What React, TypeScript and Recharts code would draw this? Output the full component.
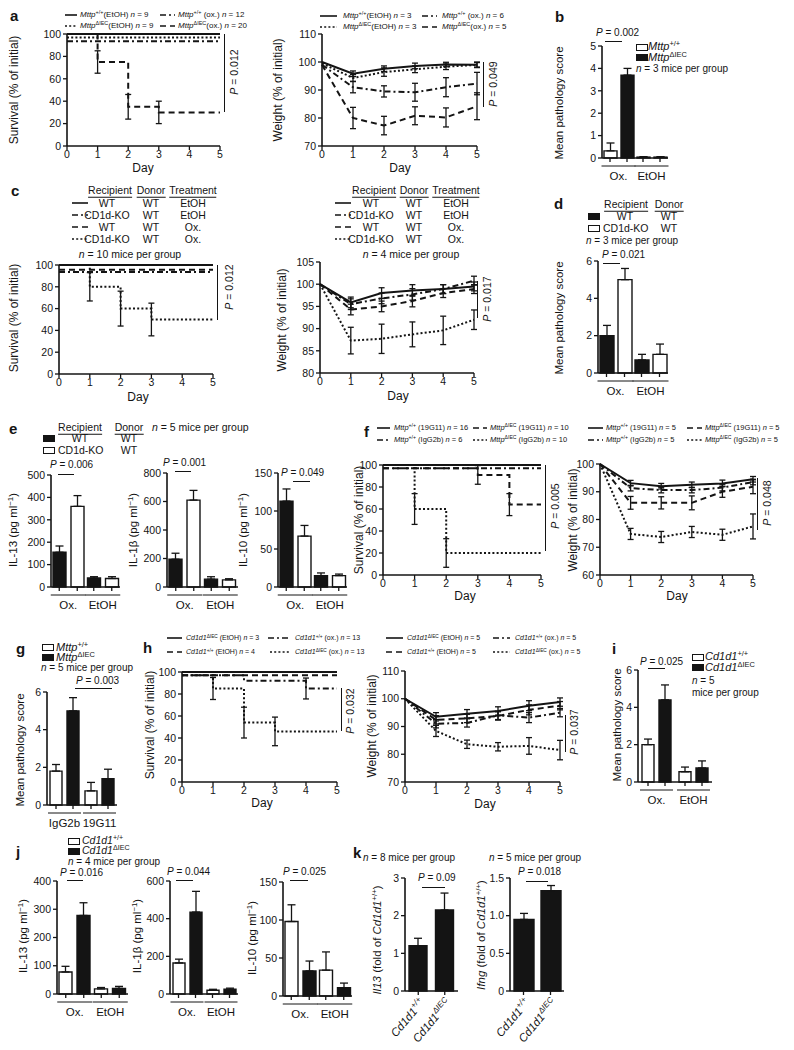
import React from "react";
import { LineChart, Line, BarChart, Bar, XAxis, YAxis, ErrorBar } from "recharts";

const FONT = "Arial, 'Liberation Sans', Helvetica, sans-serif";
const INK = "#141414";

const DAYS = [0, 1, 2, 3, 4, 5];
const SOLID = "";
const DOTTED = "2 2.2";
const DASHED = "6 4";
const DASHDOT = "6 3 2 3";

// a: survival (Mttp)
const aSurvWtEtoh = [100, 100, 100, 100, 100, 100];
const aSurvIecEtoh = [96.8, 96.8, 96.8, 96.8, 96.8, 96.8];
const aSurvWtOx = [93.5, 93.5, 93.5, 93.5, 93.5, 93.5];
const aSurvIecOx = [100, 75, 35, 30, 30, 30];
const aSurvIecOxErr = [null, 10, 11, 10, null, null];
// a: weight
const aWtWtEtoh = [100, 95.8, 97.6, 98.6, 99.1, 99];
const aWtWtEtohErr = [null, 1, 1, 1, 0.8, 0.8];
const aWtIecEtoh = [99.5, 94.3, 96.4, 97.4, 98.3, 99];
const aWtIecEtohErr = [null, 1.2, 1.5, 1.2, 1, 1];
const aWtWtOx = [99, 91, 89.5, 89.2, 91, 92.3];
const aWtWtOxErr = [null, 2, 2, 3.2, 3.4, 4];
const aWtIecOx = [99, 80, 77.3, 80.8, 80.2, 84.2];
const aWtIecOxErr = [null, 3.8, 3.3, 3.2, 3.4, 4.8];

// b: pathology (Mttp)
const bGroups = ["Ox.", "EtOH"];
const bWt = [0.32, 0.04];
const bWtErr = [0.35, 0.02];
const bIec = [3.7, 0.04];
const bIecErr = [0.3, 0.02];

// c: survival (CD1d-KO recipients)
const cSurvWtEtoh = [100, 100, 100, 100, 100, 100];
const cSurvKoEtoh = [93.6, 93.6, 93.6, 93.6, 93.6, 93.6];
const cSurvWtOx = [95.6, 95.6, 95.6, 95.6, 95.6, 95.6];
const cSurvKoOx = [100, 80, 60, 50, 50, 50];
const cSurvKoOxErr = [null, 13, 16, 15, null, null];
// c: weight
const cWtWtEtoh = [100, 95.9, 98, 98.6, 98.9, 99.5];
const cWtKoEtoh = [100, 95.5, 96.8, 97.7, 98.9, 100.8];
const cWtWtOx = [100, 94.3, 95, 96.2, 98, 98.9];
const cWtKoOx = [100, 87.3, 87.7, 88.7, 89.6, 92];
const cWtSmallErr = [null, 1.2, 1.2, 1.3, 1, 1];
const cWtKoOxErr = [null, 3, 3.3, 2.8, 3.2, 2.2];

// d: pathology (CD1d-KO recipients)
const dGroups = ["Ox.", "EtOH"];
const dWt = [2.0, 0.7];
const dWtErr = [0.55, 0.3];
const dKo = [5.0, 1.0];
const dKoErr = [0.6, 0.55];

// e: cytokines (CD1d-KO recipients)
const eGroups = ["Ox.", "EtOH"];
const e13Wt = [155, 40];
const e13WtErr = [28, 6];
const e13Ko = [360, 38];
const e13KoErr = [48, 8];
const e1bWt = [195, 55];
const e1bWtErr = [42, 17];
const e1bKo = [610, 50];
const e1bKoErr = [68, 8];
const e10Wt = [113, 15];
const e10WtErr = [16, 3.5];
const e10Ko = [67, 15];
const e10KoErr = [14, 2];

// f: survival / weight with antibody
const fSurvWt19 = [100, 100, 100, 100, 100, 100];
const fSurvWtIg = [97, 97, 97, 97, 97, 97];
const fSurvIec19 = [97, 97, 97, 91, 64, 64];
const fSurvIec19Err = [null, null, null, 8.5, 10, null];
const fSurvIecIg = [100, 60, 20, 20, 20, 20];
const fSurvIecIgErr = [null, 14, 13, null, null, null];
const fWtWt19 = [100, 93.1, 92, 92.5, 93, 94.5];
const fWtWtIg = [100, 91.3, 90.6, 90.6, 91.5, 93.5];
const fWtIec19 = [100, 86, 86, 86, 90, 91.8];
const fWtIecIg = [100, 74.8, 73.7, 75.5, 74.5, 77.5];
const fWtSmallErr = [null, 1, 1, 1, 1.2, 1];
const fWtIec19Err = [null, 2.3, 2.2, 2.5, 2, 2.5];
const fWtIecIgErr = [null, 2, 2, 2, 2, 4.5];

// g: pathology with antibody
const gGroups = ["IgG2b", "19G11"];
const gWt = [1.8, 0.75];
const gWtErr = [0.35, 0.45];
const gIec = [5.0, 1.4];
const gIecErr = [0.7, 0.5];

// h: survival / weight (Cd1d1)
const hSurvIecEtoh = [100, 100, 100, 100, 100, 100];
const hSurvWtEtoh = [97, 97, 97, 97, 97, 97];
const hSurvWtOx = [97, 97, 92, 92, 85, 85];
const hSurvWtOxErr = [null, null, null, null, 9.5, null];
const hSurvIecOx = [97, 85, 54, 46, 46, 46];
const hSurvIecOxErr = [null, 10, 14, 13, null, null];
const hWtIecEtoh = [100, 93.5, 94.6, 95.6, 97.5, 98.8];
const hWtWtEtoh = [100, 92.4, 92.9, 93.8, 96, 97.5];
const hWtWtOx = [100, 91, 91.3, 94, 93.2, 95];
const hWtIecOx = [100, 88.4, 83.6, 82.7, 83, 81.5];
const hWtSmallErr = [null, 1.5, 1.5, 1.5, 1.8, 1.5];
const hWtIecOxErr = [null, 2, 1.5, 1.5, 3, 3.5];

// i: pathology (Cd1d1)
const iGroups = ["Ox.", "EtOH"];
const iWt = [2.0, 0.55];
const iWtErr = [0.3, 0.25];
const iIec = [4.4, 0.75];
const iIecErr = [0.8, 0.38];

// j: cytokines (Cd1d1)
const jGroups = ["Ox.", "EtOH"];
const j13Wt = [78, 18];
const j13WtErr = [20, 5];
const j13Iec = [278, 20];
const j13IecErr = [45, 7];
const j1bWt = [165, 20];
const j1bWtErr = [20, 5];
const j1bIec = [435, 25];
const j1bIecErr = [110, 6];
const j10Wt = [98, 34];
const j10WtErr = [22, 24];
const j10Iec = [33, 11];
const j10IecErr = [13, 6];

// k: qPCR
const kCats = ["Cd1d1|+/+", "Cd1d1|\u0394IEC"];
const kIl13 = [1.2, 2.15];
const kIl13Err = [0.2, 0.45];
const kIfng = [0.95, 1.33];
const kIfngErr = [0.08, 0.07];

type Num = number | null;
type Series = { vals: number[]; errs?: Num[]; dash: string };
type BarSeries = { vals: number[]; errs: number[]; black: boolean };

const YW = 34;
const PT = 10;
const PR = 10;

const tickStyle = { fontSize: 10.5, fill: INK, fontFamily: FONT };
const axisLine = { stroke: INK, strokeWidth: 1.6 };
const tickLine = { stroke: INK, strokeWidth: 1.3 };

function LinePanel({ box, domain, ticks, series, step = false }: { box: number[]; domain: number[]; ticks: number[]; series: Series[]; step?: boolean }) {
  const [x0, y0, x1, y1] = box;
  const XH = 30;
  const rows = DAYS.map((d, i) => {
    const r: Record<string, unknown> = { day: d };
    series.forEach((s, k) => {
      r["v" + k] = s.vals[i];
      r["e" + k] = s.errs ? s.errs[i] : null;
    });
    return r;
  });
  return (
    <div style={{ position: "absolute", left: x0 - YW, top: y0 - PT }}>
      <LineChart width={x1 - x0 + YW + PR} height={y1 - y0 + PT + XH} data={rows} margin={{ top: PT, right: PR, left: 0, bottom: 0 }}>
        <XAxis dataKey="day" type="number" domain={[0, 5]} ticks={DAYS} interval={0} height={XH}
          axisLine={axisLine} tickLine={tickLine} tickSize={4} tick={tickStyle} tickMargin={1} />
        <YAxis type="number" domain={domain} ticks={ticks} interval={0} width={YW}
          axisLine={axisLine} tickLine={tickLine} tickSize={4} tick={tickStyle} tickMargin={2} />
        {series.map((s, k) => (
          <Line key={k} dataKey={"v" + k} type={step ? "stepAfter" : "linear"} stroke={INK} strokeWidth={2}
            strokeDasharray={s.dash || undefined} dot={false} isAnimationActive={false}>
            {s.errs && <ErrorBar dataKey={"e" + k} width={3} stroke={INK} strokeWidth={1.3} direction="y" />}
          </Line>
        ))}
      </LineChart>
    </div>
  );
}

function GroupTick(props: any) {
  const { x, y, payload, offs, half } = props;
  return (
    <g>
      {offs.map((o: number, i: number) => (
        <line key={i} x1={x + o} x2={x + o} y1={y} y2={y + 4} stroke={INK} strokeWidth={1.3} />
      ))}
      <line x1={x - half} x2={x + half} y1={y + 8} y2={y + 8} stroke={INK} strokeWidth={1} />
      <text x={x} y={y + 22} textAnchor="middle" fontSize={11.5} fontFamily={FONT} fill={INK}>{payload.value}</text>
    </g>
  );
}

function GeneTick(props: any) {
  const { x, y, payload } = props;
  const [base, sup] = String(payload.value).split("|");
  return (
    <g>
      <line x1={x} x2={x} y1={y} y2={y + 4} stroke={INK} strokeWidth={1.3} />
      <text transform={`translate(${x + 7},${y + 12}) rotate(-50)`} textAnchor="end" fontSize={11.5}
        fontStyle="italic" fontFamily={FONT} fill={INK}>
        {base}<tspan fontSize={8} dy={-5}>{sup}</tspan>
      </text>
    </g>
  );
}

function BarPanel({ box, domain, ticks, cats, series, barSize, gap, fmt, genes = false }: {
  box: number[]; domain: number[]; ticks: number[]; cats: string[]; series: BarSeries[];
  barSize: number; gap: number; fmt?: (v: number) => string; genes?: boolean;
}) {
  const [x0, y0, x1, y1] = box;
  const XH = genes ? 70 : 30;
  const rows = cats.map((c, i) => {
    const r: Record<string, unknown> = { c };
    series.forEach((s, k) => {
      r["v" + k] = s.vals[i];
      r["e" + k] = [0, s.errs[i]];
    });
    return r;
  });
  const h = (barSize + gap) / 2;
  const offs = series.length === 1 ? [0] : [-h, h];
  return (
    <div style={{ position: "absolute", left: x0 - YW, top: y0 - PT }}>
      <BarChart width={x1 - x0 + YW + PR} height={y1 - y0 + PT + XH} data={rows} barGap={gap}
        margin={{ top: PT, right: PR, left: 0, bottom: 0 }}>
        <XAxis dataKey="c" interval={0} height={XH} axisLine={axisLine} tickLine={false} tickSize={0} tickMargin={0}
          tick={(p: any) => genes ? <GeneTick {...p} /> : <GroupTick {...p} offs={offs} half={barSize + gap / 2 + 2} />} />
        <YAxis type="number" domain={domain} ticks={ticks} interval={0} width={YW} tickFormatter={fmt}
          axisLine={axisLine} tickLine={tickLine} tickSize={4} tick={tickStyle} tickMargin={2} />
        {series.map((s, k) => (
          <Bar key={k} dataKey={"v" + k} barSize={barSize} fill={s.black ? INK : "#fff"} stroke={INK}
            strokeWidth={1.4} isAnimationActive={false}>
            <ErrorBar dataKey={"e" + k} width={4} stroke={INK} strokeWidth={1.3} direction="y" />
          </Bar>
        ))}
      </BarChart>
    </div>
  );
}

// ---------- overlay helpers ----------
function T({ x, y, s = 10, a = "l", b, it, children }: { x: number; y: number; s?: number; a?: string; b?: boolean; it?: boolean; children: React.ReactNode }) {
  const tx = a === "l" ? "0" : a === "c" ? "-50%" : "-100%";
  return (
    <div style={{ position: "absolute", left: x, top: y, transform: `translate(${tx},-50%)`, fontSize: s, lineHeight: 1,
      whiteSpace: "nowrap", fontWeight: b ? 700 : 400, fontStyle: it ? "italic" : "normal" }}>{children}</div>
  );
}
function VT({ x, y, s = 12, children }: { x: number; y: number; s?: number; children: React.ReactNode }) {
  return (
    <div style={{ position: "absolute", left: x, top: y, transform: "translate(-50%,-50%) rotate(-90deg)",
      fontSize: s, lineHeight: 1, whiteSpace: "nowrap" }}>{children}</div>
  );
}
function HL({ x1, x2, y, w = 1 }: { x1: number; x2: number; y: number; w?: number }) {
  return <div style={{ position: "absolute", left: x1, top: y, width: x2 - x1, height: w, background: INK }} />;
}
function VL({ x, y1, y2, w = 1.2 }: { x: number; y1: number; y2: number; w?: number }) {
  return <div style={{ position: "absolute", left: x, top: y1, width: w, height: y2 - y1, background: INK }} />;
}
function Sample({ x, y, w, dash }: { x: number; y: number; w: number; dash: string }) {
  return (
    <svg style={{ position: "absolute", left: x, top: y - 3 }} width={w} height={6}>
      <line x1={0} x2={w} y1={3} y2={3} stroke={INK} strokeWidth={1.6} strokeDasharray={dash || undefined} />
    </svg>
  );
}
function Sw({ x, y, black, w = 12, h = 7 }: { x: number; y: number; black?: boolean; w?: number; h?: number }) {
  return <div style={{ position: "absolute", left: x, top: y - h / 2, width: w - 2, height: h - 2, border: `1px solid ${INK}`, background: black ? INK : "#fff" }} />;
}
const Sup = ({ children }: { children: React.ReactNode }) => (
  <span style={{ fontSize: "0.68em", position: "relative", top: "-0.5em" }}>{children}</span>
);
const G = ({ g, s }: { g: string; s: string }) => (<><i>{g}</i><Sup>{s}</Sup></>);
const WT = "+/+";
const IEC = "\u0394IEC";
const N = () => <i>n</i>;
const P = ({ v }: { v: string }) => (<><i>P</i> = {v}</>);
const U = ({ children }: { children: React.ReactNode }) => (
  <span style={{ borderBottom: `1px solid ${INK}`, paddingBottom: 1 }}>{children}</span>
);
const PL = ({ x, y, t }: { x: number; y: number; t: string }) => <T x={x} y={y} s={15} b>{t}</T>;

function Li({ x, w, tx, y, dash, s = 8, children }: { x: number; w: number; tx: number; y: number; dash: string; s?: number; children: React.ReactNode }) {
  return (<><Sample x={x} y={y} w={w} dash={dash} /><T x={tx} y={y} s={s}>{children}</T></>);
}

function TableLegend({ cx, sx, head }: { cx: number[]; sx: number; head: number }) {
  const rows: [string, string, string, string][] = [
    [SOLID, "WT", "WT", "EtOH"],
    [DASHDOT, "CD1d-KO", "WT", "EtOH"],
    [DASHED, "WT", "WT", "Ox."],
    [DOTTED, "CD1d-KO", "WT", "Ox."],
  ];
  return (
    <>
      <T x={cx[0]} y={head} s={10.5} a="c"><U>Recipient</U></T>
      <T x={cx[1]} y={head} s={10.5} a="c"><U>Donor</U></T>
      <T x={cx[2]} y={head} s={10.5} a="c"><U>Treatment</U></T>
      {rows.map((r, i) => (
        <React.Fragment key={i}>
          <Sample x={sx} y={head + 13 + i * 12} w={16} dash={r[0]} />
          <T x={cx[0] - 3} y={head + 13 + i * 12} s={10.5} a="c">{r[1]}</T>
          <T x={cx[1]} y={head + 13 + i * 12} s={10.5} a="c">{r[2]}</T>
          <T x={cx[2]} y={head + 13 + i * 12} s={10.5} a="c">{r[3]}</T>
        </React.Fragment>
      ))}
    </>
  );
}

const ILLabel = ({ t }: { t: string }) => (<>{t} (pg ml<Sup>{"\u22121"}</Sup>)</>);

export default function App() {
  return (
    <div style={{ position: "absolute", left: 0, top: 0, width: 794, height: 1050, background: "#fff", fontFamily: FONT, color: INK, overflow: "hidden" }}>
      {/* ---------------- a ---------------- */}
      <PL x={10} y={15} t="a" />
      <Li x={65} w={12} tx={80} y={15} dash={SOLID}><G g="Mttp" s={WT} />(EtOH) <N /> = 9</Li>
      <Li x={160} w={15} tx={178} y={15} dash={DASHDOT}><G g="Mttp" s={WT} /> (ox.) <N /> = 12</Li>
      <Li x={65} w={12} tx={80} y={26} dash={DOTTED}><G g="Mttp" s={IEC} />(EtOH) <N /> = 9</Li>
      <Li x={160} w={15} tx={178} y={26} dash={DASHED}><G g="Mttp" s={IEC} />(ox.) <N /> = 20</Li>
      <LinePanel box={[67, 34, 220, 146]} domain={[0, 100]} ticks={[0, 20, 40, 60, 80, 100]} step series={[
        { vals: aSurvWtEtoh, dash: SOLID },
        { vals: aSurvIecEtoh, dash: DOTTED },
        { vals: aSurvWtOx, dash: DASHDOT },
        { vals: aSurvIecOx, errs: aSurvIecOxErr, dash: DASHED },
      ]} />
      <VT x={14} y={90}>Survival (% of initial)</VT>
      <T x={143} y={168} s={12} a="c">Day</T>
      <VL x={224} y1={34} y2={112} />
      <VT x={234} y={72} s={10.5}><P v="0.012" /></VT>

      <Li x={320} w={17} tx={343} y={16} dash={SOLID}><G g="Mttp" s={WT} />(EtOH) <N /> = 3</Li>
      <Li x={422} w={15} tx={442} y={16} dash={DASHDOT}><G g="Mttp" s={WT} /> (ox.) <N /> = 6</Li>
      <Li x={320} w={17} tx={343} y={27} dash={DOTTED}><G g="Mttp" s={IEC} />(EtOH) <N /> = 3</Li>
      <Li x={422} w={15} tx={442} y={27} dash={DASHED}><G g="Mttp" s={IEC} />(ox.) <N /> = 5</Li>
      <LinePanel box={[322, 34, 477, 146]} domain={[70, 110]} ticks={[70, 80, 90, 100, 110]} series={[
        { vals: aWtWtEtoh, errs: aWtWtEtohErr, dash: SOLID },
        { vals: aWtIecEtoh, errs: aWtIecEtohErr, dash: DOTTED },
        { vals: aWtWtOx, errs: aWtWtOxErr, dash: DASHDOT },
        { vals: aWtIecOx, errs: aWtIecOxErr, dash: DASHED },
      ]} />
      <VT x={278} y={90}>Weight (% of initial)</VT>
      <T x={400} y={168} s={12} a="c">Day</T>
      <VL x={483} y1={62} y2={107} />
      <VT x={493} y={84} s={10.5}><P v="0.049" /></VT>

      {/* ---------------- b ---------------- */}
      <PL x={555} y={16} t="b" />
      <T x={596} y={33} s={10}><P v="0.002" /></T>
      <HL x1={605} x2={622} y={41} />
      <Sw x={636} y={47} />
      <T x={648} y={46} s={11}><G g="Mttp" s={WT} /></T>
      <Sw x={636} y={57} black />
      <T x={648} y={57} s={11}><G g="Mttp" s={IEC} /></T>
      <T x={636} y={69} s={10}><N /> = 3 mice per group</T>
      <BarPanel box={[602, 46, 668, 158]} domain={[0, 5]} ticks={[0, 1, 2, 3, 4, 5]} cats={bGroups} barSize={13} gap={4} series={[
        { vals: bWt, errs: bWtErr, black: false },
        { vals: bIec, errs: bIecErr, black: true },
      ]} />
      <VT x={560} y={103} s={11.5}>Mean pathology score</VT>

      {/* ---------------- c ---------------- */}
      <PL x={11} y={190} t="c" />
      <TableLegend cx={[110, 151, 193]} sx={72} head={190} />
      <T x={130} y={254} s={10.5} a="c"><N /> = 10 mice per group</T>
      <LinePanel box={[59, 265, 213, 374]} domain={[0, 100]} ticks={[0, 20, 40, 60, 80, 100]} step series={[
        { vals: cSurvWtEtoh, dash: SOLID },
        { vals: cSurvWtOx, dash: DASHED },
        { vals: cSurvKoEtoh, dash: DASHDOT },
        { vals: cSurvKoOx, errs: cSurvKoOxErr, dash: DOTTED },
      ]} />
      <VT x={14} y={318}>Survival (% of initial)</VT>
      <T x={138} y={397} s={12} a="c">Day</T>
      <VL x={217} y1={265} y2={320} />
      <VT x={229} y={287} s={10.5}><P v="0.012" /></VT>

      <TableLegend cx={[374, 414, 456]} sx={335} head={190} />
      <T x={411} y={254} s={10.5} a="c"><N /> = 4 mice per group</T>
      <LinePanel box={[320, 262, 474, 373]} domain={[80, 105]} ticks={[80, 85, 90, 95, 100, 105]} series={[
        { vals: cWtWtEtoh, errs: cWtSmallErr, dash: SOLID },
        { vals: cWtKoEtoh, errs: cWtSmallErr, dash: DASHDOT },
        { vals: cWtWtOx, errs: cWtSmallErr, dash: DASHED },
        { vals: cWtKoOx, errs: cWtKoOxErr, dash: DOTTED },
      ]} />
      <VT x={282} y={320}>Weight (% of initial)</VT>
      <T x={398} y={396} s={12} a="c">Day</T>
      <VL x={477} y1={281} y2={318} />
      <VT x={487} y={299} s={10.5}><P v="0.017" /></VT>

      {/* ---------------- d ---------------- */}
      <PL x={554} y={203} t="d" />
      <T x={626} y={204} s={10.5} a="c"><U>Recipient</U></T>
      <T x={669} y={204} s={10.5} a="c"><U>Donor</U></T>
      <Sw x={588} y={216} black />
      <T x={625} y={216} s={10.5} a="c">WT</T>
      <T x={669} y={216} s={10.5} a="c">WT</T>
      <Sw x={588} y={228} />
      <T x={603} y={228} s={10.5}>CD1d-KO</T>
      <T x={669} y={228} s={10.5} a="c">WT</T>
      <T x={586} y={241} s={10}><N /> = 3 mice per group</T>
      <T x={602} y={255} s={10}><P v="0.021" /></T>
      <HL x1={603} x2={620} y={263} />
      <BarPanel box={[598, 261, 668, 373]} domain={[0, 6]} ticks={[0, 2, 4, 6]} cats={dGroups} barSize={14} gap={4} series={[
        { vals: dWt, errs: dWtErr, black: true },
        { vals: dKo, errs: dKoErr, black: false },
      ]} />
      <VT x={560} y={318} s={11.5}>Mean pathology score</VT>

      {/* ---------------- e ---------------- */}
      <PL x={9} y={428} t="e" />
      <T x={80} y={427} s={10.5} a="c"><U>Recipient</U></T>
      <T x={129} y={427} s={10.5} a="c"><U>Donor</U></T>
      <T x={152} y={427} s={10.5}><N /> = 5 mice per group</T>
      <Sw x={43} y={438} black />
      <T x={80} y={438} s={10.5} a="c">WT</T>
      <T x={129} y={438} s={10.5} a="c">WT</T>
      <Sw x={43} y={450} />
      <T x={58} y={450} s={10.5}>CD1d-KO</T>
      <T x={129} y={450} s={10.5} a="c">WT</T>

      <T x={50} y={465} s={10}><P v="0.006" /></T>
      <HL x1={58} x2={74} y={474} />
      <BarPanel box={[51, 475, 120, 587]} domain={[0, 500]} ticks={[0, 100, 200, 300, 400, 500]} cats={eGroups} barSize={13} gap={5} series={[
        { vals: e13Wt, errs: e13WtErr, black: true },
        { vals: e13Ko, errs: e13KoErr, black: false },
      ]} />
      <VT x={14} y={530} s={11.5}><ILLabel t="IL-13" /></VT>

      <T x={163} y={463} s={10}><P v="0.001" /></T>
      <HL x1={175} x2={191} y={471} />
      <BarPanel box={[167, 473, 238, 587]} domain={[0, 800]} ticks={[0, 200, 400, 600, 800]} cats={eGroups} barSize={13} gap={5} series={[
        { vals: e1bWt, errs: e1bWtErr, black: true },
        { vals: e1bKo, errs: e1bKoErr, black: false },
      ]} />
      <VT x={134} y={530} s={11.5}><ILLabel t={"IL-1\u03b2"} /></VT>

      <T x={281} y={473} s={10}><P v="0.049" /></T>
      <HL x1={293} x2={310} y={481} />
      <BarPanel box={[278, 473, 347, 587]} domain={[0, 150]} ticks={[0, 50, 100, 150]} cats={eGroups} barSize={13} gap={5} series={[
        { vals: e10Wt, errs: e10WtErr, black: true },
        { vals: e10Ko, errs: e10KoErr, black: false },
      ]} />
      <VT x={244} y={530} s={11.5}><ILLabel t="IL-10" /></VT>

      {/* ---------------- f ---------------- */}
      <PL x={364} y={431} t="f" />
      <Li x={377} w={13} tx={394} y={428} s={7.5} dash={SOLID}><G g="Mttp" s={WT} /> (19G11) <N /> = 16</Li>
      <Li x={473} w={14} tx={490} y={428} s={7.5} dash={DASHED}><G g="Mttp" s={IEC} /> (19G11) <N /> = 10</Li>
      <Li x={588} w={15} tx={606} y={428} s={7.5} dash={SOLID}><G g="Mttp" s={WT} /> (19G11) <N /> = 5</Li>
      <Li x={687} w={15} tx={705} y={428} s={7.5} dash={DASHED}><G g="Mttp" s={IEC} /> (19G11) <N /> = 5</Li>
      <Li x={377} w={13} tx={394} y={440} s={7.5} dash={DASHDOT}><G g="Mttp" s={WT} /> (IgG2b) <N /> = 6</Li>
      <Li x={473} w={14} tx={490} y={440} s={7.5} dash={DOTTED}><G g="Mttp" s={IEC} /> (IgG2b) <N /> = 10</Li>
      <Li x={588} w={15} tx={606} y={440} s={7.5} dash={DASHDOT}><G g="Mttp" s={WT} /> (IgG2b) <N /> = 5</Li>
      <Li x={687} w={15} tx={705} y={440} s={7.5} dash={DOTTED}><G g="Mttp" s={IEC} /> (IgG2b) <N /> = 5</Li>
      <LinePanel box={[383, 465, 541, 575]} domain={[0, 100]} ticks={[0, 20, 40, 60, 80, 100]} step series={[
        { vals: fSurvWt19, dash: SOLID },
        { vals: fSurvWtIg, dash: DASHDOT },
        { vals: fSurvIec19, errs: fSurvIec19Err, dash: DASHED },
        { vals: fSurvIecIg, errs: fSurvIecIgErr, dash: DOTTED },
      ]} />
      <VT x={359} y={520}>Survival (% of initial)</VT>
      <T x={465} y={596} s={12} a="c">Day</T>
      <VL x={545} y1={465} y2={551} />
      <VT x={555} y={506} s={10.5}><P v="0.005" /></VT>

      <LinePanel box={[600, 464, 753, 575]} domain={[60, 100]} ticks={[60, 70, 80, 90, 100]} series={[
        { vals: fWtWt19, errs: fWtSmallErr, dash: SOLID },
        { vals: fWtWtIg, errs: fWtSmallErr, dash: DASHDOT },
        { vals: fWtIec19, errs: fWtIec19Err, dash: DASHED },
        { vals: fWtIecIg, errs: fWtIecIgErr, dash: DOTTED },
      ]} />
      <VT x={573} y={520}>Weight (% of initial)</VT>
      <T x={677} y={596} s={12} a="c">Day</T>
      <VL x={757} y1={478} y2={530} />
      <VT x={767} y={503} s={10.5}><P v="0.048" /></VT>

      {/* ---------------- g ---------------- */}
      <PL x={16} y={648} t="g" />
      <Sw x={42} y={647} />
      <T x={56} y={647} s={11}><G g="Mttp" s={WT} /></T>
      <Sw x={42} y={657} black />
      <T x={56} y={657} s={11}><G g="Mttp" s={IEC} /></T>
      <T x={41} y={668} s={10}><N /> = 5 mice per group</T>
      <T x={76} y={681} s={10}><P v="0.003" /></T>
      <HL x1={75} x2={112} y={688} />
      <BarPanel box={[47, 692, 117, 805]} domain={[0, 6]} ticks={[0, 2, 4, 6]} cats={gGroups} barSize={12} gap={5} series={[
        { vals: gWt, errs: gWtErr, black: false },
        { vals: gIec, errs: gIecErr, black: true },
      ]} />
      <VT x={21} y={750} s={11.5}>Mean pathology score</VT>

      {/* ---------------- h ---------------- */}
      <PL x={143} y={647} t="h" />
      <Li x={167} w={15} tx={186} y={638} s={7} dash={SOLID}><G g="Cd1d1" s={IEC} /> (EtOH) <N /> = 3</Li>
      <Li x={268} w={22} tx={295} y={638} s={7} dash={DASHDOT}><G g="Cd1d1" s={WT} /> (ox.) <N /> = 13</Li>
      <Li x={167} w={15} tx={186} y={652} s={7} dash={DASHED}><G g="Cd1d1" s={WT} /> (EtOH) <N /> = 4</Li>
      <Li x={270} w={20} tx={295} y={652} s={7} dash={DOTTED}><G g="Cd1d1" s={IEC} /> (ox.) <N /> = 13</Li>
      <Li x={386} w={17} tx={407} y={638} s={7} dash={SOLID}><G g="Cd1d1" s={IEC} /> (EtOH) <N /> = 5</Li>
      <Li x={493} w={17} tx={515} y={638} s={7} dash={DASHDOT}><G g="Cd1d1" s={WT} /> (ox.) <N /> = 5</Li>
      <Li x={386} w={17} tx={407} y={652} s={7} dash={DASHED}><G g="Cd1d1" s={WT} /> (EtOH) <N /> = 5</Li>
      <Li x={493} w={17} tx={515} y={652} s={7} dash={DOTTED}><G g="Cd1d1" s={IEC} /> (ox.) <N /> = 5</Li>
      <LinePanel box={[182, 672, 337, 782]} domain={[0, 100]} ticks={[0, 20, 40, 60, 80, 100]} step series={[
        { vals: hSurvIecEtoh, dash: SOLID },
        { vals: hSurvWtEtoh, dash: DASHED },
        { vals: hSurvWtOx, errs: hSurvWtOxErr, dash: DASHDOT },
        { vals: hSurvIecOx, errs: hSurvIecOxErr, dash: DOTTED },
      ]} />
      <VT x={150} y={725}>Survival (% of initial)</VT>
      <T x={262} y={803} s={12} a="c">Day</T>
      <VL x={341} y1={688} y2={731} />
      <VT x={350} y={711} s={10.5}><P v="0.032" /></VT>

      <LinePanel box={[405, 671, 560, 782]} domain={[70, 110]} ticks={[70, 80, 90, 100, 110]} series={[
        { vals: hWtIecEtoh, errs: hWtSmallErr, dash: SOLID },
        { vals: hWtWtEtoh, errs: hWtSmallErr, dash: DASHED },
        { vals: hWtWtOx, errs: hWtSmallErr, dash: DASHDOT },
        { vals: hWtIecOx, errs: hWtIecOxErr, dash: DOTTED },
      ]} />
      <VT x={372} y={726}>Weight (% of initial)</VT>
      <T x={485} y={804} s={12} a="c">Day</T>
      <VL x={565} y1={715} y2={752} />
      <VT x={574} y={732} s={10.5}><P v="0.037" /></VT>

      {/* ---------------- i ---------------- */}
      <PL x={612} y={648} t="i" />
      <T x={640} y={662} s={10}><P v="0.025" /></T>
      <HL x1={648} x2={665} y={668} />
      <Sw x={692} y={657} />
      <T x={705} y={656} s={11}><G g="Cd1d1" s={WT} /></T>
      <Sw x={692} y={667} black />
      <T x={705} y={667} s={11}><G g="Cd1d1" s={IEC} /></T>
      <T x={692} y={681} s={10}><N /> = 5</T>
      <T x={692} y={693} s={10}>mice per group</T>
      <BarPanel box={[638, 670, 712, 782]} domain={[0, 6]} ticks={[0, 2, 4, 6]} cats={iGroups} barSize={12} gap={5} series={[
        { vals: iWt, errs: iWtErr, black: false },
        { vals: iIec, errs: iIecErr, black: true },
      ]} />
      <VT x={618} y={725} s={11.5}>Mean pathology score</VT>

      {/* ---------------- j ---------------- */}
      <PL x={16} y={851} t="j" />
      <Sw x={68} y={841} />
      <T x={82} y={841} s={10.5}><G g="Cd1d1" s={WT} /></T>
      <Sw x={68} y={851} black />
      <T x={82} y={851} s={10.5}><G g="Cd1d1" s={IEC} /></T>
      <T x={68} y={862} s={10}><N /> = 4 mice per group</T>

      <T x={60} y={873} s={10}><P v="0.016" /></T>
      <HL x1={67} x2={83} y={880} />
      <BarPanel box={[57, 881, 128, 994]} domain={[0, 400]} ticks={[0, 100, 200, 300, 400]} cats={jGroups} barSize={13} gap={5} series={[
        { vals: j13Wt, errs: j13WtErr, black: false },
        { vals: j13Iec, errs: j13IecErr, black: true },
      ]} />
      <VT x={24} y={936} s={11.5}><ILLabel t="IL-13" /></VT>

      <T x={167} y={872} s={10}><P v="0.044" /></T>
      <HL x1={176} x2={193} y={880} />
      <BarPanel box={[170, 881, 238, 994]} domain={[0, 600]} ticks={[0, 200, 400, 600]} cats={jGroups} barSize={12} gap={5} series={[
        { vals: j1bWt, errs: j1bWtErr, black: false },
        { vals: j1bIec, errs: j1bIecErr, black: true },
      ]} />
      <VT x={138} y={936} s={11.5}><ILLabel t={"IL-1\u03b2"} /></VT>

      <T x={283} y={872} s={10}><P v="0.025" /></T>
      <HL x1={290} x2={308} y={880} />
      <BarPanel box={[283, 882, 352, 996]} domain={[0, 150]} ticks={[0, 50, 100, 150]} cats={jGroups} barSize={13} gap={5} series={[
        { vals: j10Wt, errs: j10WtErr, black: false },
        { vals: j10Iec, errs: j10IecErr, black: true },
      ]} />
      <VT x={253} y={938} s={11.5}><ILLabel t="IL-10" /></VT>

      {/* ---------------- k ---------------- */}
      <PL x={353} y={852} t="k" />
      <T x={363} y={858} s={10}><N /> = 8 mice per group</T>
      <T x={418} y={878} s={10}><P v="0.09" /></T>
      <HL x1={422} x2={445} y={887} />
      <BarPanel box={[405, 878, 458, 991]} domain={[0, 3]} ticks={[0, 1, 2, 3]} cats={kCats} barSize={18} gap={0} genes series={[
        { vals: kIl13, errs: kIl13Err, black: true },
      ]} />
      <VT x={378} y={940} s={11.5}><i>Il13</i> (fold of <G g="Cd1d1" s={WT} />)</VT>

      <T x={489} y={858} s={10}><N /> = 5 mice per group</T>
      <T x={518} y={872} s={10}><P v="0.018" /></T>
      <HL x1={526} x2={548} y={881} />
      <BarPanel box={[510, 878, 564, 991]} domain={[0, 1.5]} ticks={[0, 0.5, 1, 1.5]} cats={kCats} barSize={20} gap={0} genes
        fmt={(v: number) => (v === 0 ? "0" : v.toFixed(1))} series={[
          { vals: kIfng, errs: kIfngErr, black: true },
        ]} />
      <VT x={482} y={935} s={11.5}><i>Ifng</i> (fold of <G g="Cd1d1" s={WT} />)</VT>
    </div>
  );
}
